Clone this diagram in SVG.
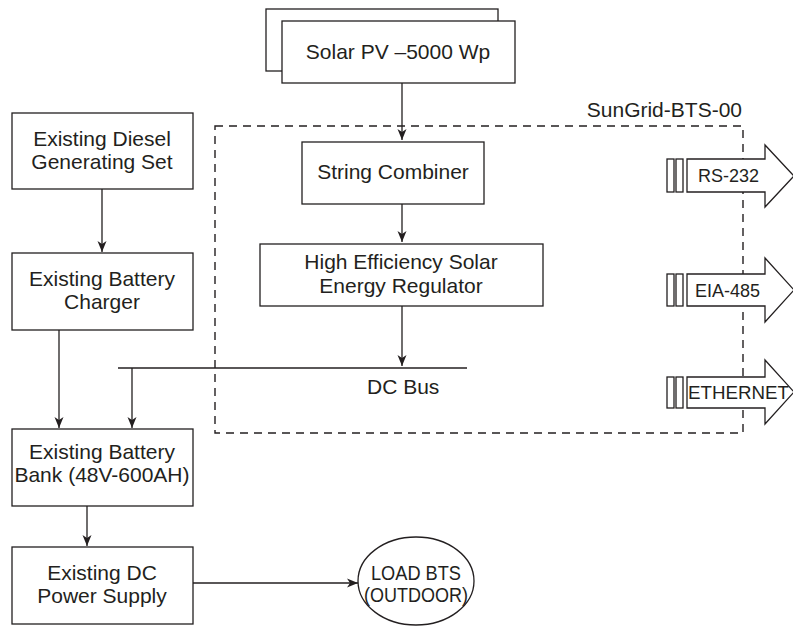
<svg xmlns="http://www.w3.org/2000/svg" width="793" height="627" viewBox="0 0 793 627">
<style>
.box{fill:#fff;stroke:#231f20;stroke-width:1.3}
.ln{fill:none;stroke:#231f20;stroke-width:1.3}
.dash{fill:none;stroke:#231f20;stroke-width:1.4;stroke-dasharray:8,6}
.t{font-family:"Liberation Sans",Arial,sans-serif;font-size:21px;fill:#231f20;text-anchor:middle}
.s{font-family:"Liberation Sans",Arial,sans-serif;font-size:18px;fill:#231f20}
</style>
<defs>
<marker id="ah" markerUnits="userSpaceOnUse" markerWidth="12" markerHeight="10" refX="11" refY="5" orient="auto">
<path d="M0,0.5 L11,5 L0,9.5 L3,5 Z" fill="#231f20"/>
</marker>
</defs>
<rect width="793" height="627" fill="#fff"/>

<g id="sungrid">
<rect class="dash" x="215" y="126" width="528" height="307"/>
<text class="t" x="742" y="117" style="text-anchor:end">SunGrid-BTS-00</text>
</g>

<g id="connectors">
<line class="ln" x1="402" y1="83" x2="402" y2="140" marker-end="url(#ah)"/>
<line class="ln" x1="402" y1="204" x2="402" y2="242" marker-end="url(#ah)"/>
<line class="ln" x1="402" y1="306" x2="402" y2="366" marker-end="url(#ah)"/>
<line class="ln" x1="118" y1="368" x2="467" y2="368"/>
<line class="ln" x1="132" y1="368" x2="132" y2="428" marker-end="url(#ah)"/>
<line class="ln" x1="59" y1="330" x2="59" y2="428" marker-end="url(#ah)"/>
<line class="ln" x1="102" y1="189" x2="102" y2="252" marker-end="url(#ah)"/>
<line class="ln" x1="87" y1="506" x2="87" y2="546" marker-end="url(#ah)"/>
<line class="ln" x1="193" y1="583" x2="358" y2="583" marker-end="url(#ah)"/>
</g>
<text class="t" x="367" y="394" style="text-anchor:start">DC Bus</text>

<g id="solar-pv">
<rect class="box" x="266" y="9" width="232" height="62"/>
<rect class="box" x="282" y="21" width="233" height="62"/>
<text class="t" x="398" y="59">Solar PV –5000 Wp</text>
</g>

<g id="string-combiner">
<rect class="box" x="302" y="142" width="182" height="62"/>
<text class="t" x="393" y="179">String Combiner</text>
</g>

<g id="regulator">
<rect class="box" x="260" y="244" width="283" height="62"/>
<text class="t" x="401" y="269">High Efficiency Solar</text>
<text class="t" x="401" y="293">Energy Regulator</text>
</g>

<g id="diesel">
<rect class="box" x="12" y="113" width="181" height="76"/>
<text class="t" x="102" y="146">Existing Diesel</text>
<text class="t" x="102" y="169">Generating Set</text>
</g>

<g id="charger">
<rect class="box" x="12" y="253" width="181" height="77"/>
<text class="t" x="102" y="286">Existing Battery</text>
<text class="t" x="102" y="309">Charger</text>
</g>

<g id="battery-bank">
<rect class="box" x="12" y="429" width="181" height="77"/>
<text class="t" x="102" y="459">Existing Battery</text>
<text class="t" x="102" y="482">Bank (48V-600AH)</text>
</g>

<g id="dc-supply">
<rect class="box" x="12" y="547" width="181" height="77"/>
<text class="t" x="102" y="580">Existing DC</text>
<text class="t" x="102" y="603">Power Supply</text>
</g>

<g id="load-bts">
<ellipse class="box" cx="416" cy="581" rx="58" ry="44"/>
<text class="t" x="416" y="580" textLength="90" lengthAdjust="spacingAndGlyphs">LOAD BTS</text>
<text class="t" x="416" y="602" textLength="104" lengthAdjust="spacingAndGlyphs">(OUTDOOR)</text>
</g>

<g id="rs232">
<rect class="box" x="667" y="159" width="7" height="33"/>
<rect class="box" x="676" y="159" width="7" height="33"/>
<path class="box" d="M687,159 H765 V145 L794,176 L765,207 V192 H687 Z"/>
<text class="s" x="698" y="182">RS-232</text>
</g>

<g id="eia485">
<rect class="box" x="667" y="274" width="7" height="32"/>
<rect class="box" x="676" y="274" width="7" height="32"/>
<path class="box" d="M687,274 H765 V258 L794,290 L765,322 V306 H687 Z"/>
<text class="s" x="695" y="297">EIA-485</text>
</g>

<g id="ethernet">
<rect class="box" x="667" y="377" width="7" height="31"/>
<rect class="box" x="676" y="377" width="7" height="31"/>
<path class="box" d="M687,377 H765 V360 L794,392 L765,424 V408 H687 Z"/>
<text class="s" x="688" y="399" textLength="101" lengthAdjust="spacingAndGlyphs">ETHERNET</text>
</g>
</svg>
